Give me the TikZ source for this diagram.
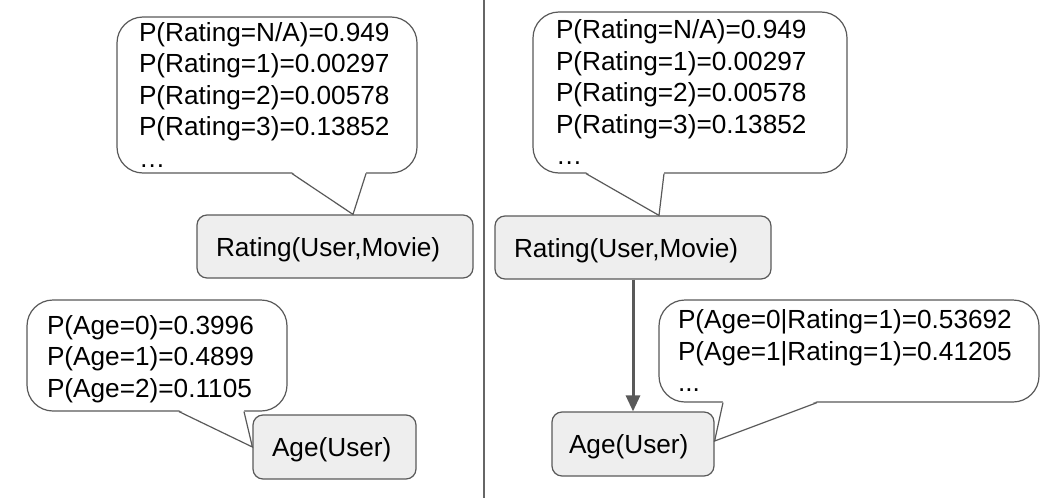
\documentclass[tikz,border=0pt]{standalone}
\usepackage{fontspec}
\setmainfont{Liberation Sans}
\usetikzlibrary{arrows.meta}
\definecolor{edgegray}{HTML}{595959}
\definecolor{boxfill}{HTML}{EEEEEE}
\definecolor{divgray}{HTML}{666666}
\tikzset{
  txt/.style={font=\fontsize{26.2}{31.5}\selectfont, align=left, text=black},
  callout/.style={txt, draw=edgegray, line width=1.2pt, fill=white, rounded corners=26pt, inner sep=0pt},
  varbox/.style={txt, draw=edgegray, line width=1.2pt, fill=boxfill, rounded corners=10pt, inner sep=0pt, minimum height=63pt, text height=19pt, text depth=0pt},
  tail/.style={draw=edgegray, line width=1.2pt},
  dep/.style={draw=edgegray, line width=3pt, -{Triangle[length=16pt,width=14pt]}}
}
\begin{document}
\begin{tikzpicture}[x=1pt,y=-1pt]
\useasboundingbox (0,0) rectangle (1060,498);
% divider
\draw[divgray, line width=1.2pt] (484,0) -- (484,498);

% ---------- left panel ----------
\node[callout, minimum width=300pt, minimum height=156pt, text width=256pt] (c1) at (267,95)
  {P(Rating=N/A)=0.949\\P(Rating=1)=0.00297\\P(Rating=2)=0.00578\\P(Rating=3)=0.13852\\…};
\node[varbox, minimum width=276pt, text width=238pt] (r1) at (335,246.5) {Rating(User,Movie)};
\node[callout, minimum width=260pt, minimum height=111pt, text width=220pt] (c2) at (157,355.5)
  {\rule{0pt}{26pt}P(Age=0)=0.3996\\P(Age=1)=0.4899\\P(Age=2)=0.1105};
\node[varbox, minimum width=163pt, minimum height=64pt, text width=125pt] (a1) at (334.5,447) {Age(User)};

% ---------- right panel ----------
\node[callout, minimum width=314pt, minimum height=161pt, text width=268pt] (c3) at (690,92.5)
  {P(Rating=N/A)=0.949\\P(Rating=1)=0.00297\\P(Rating=2)=0.00578\\P(Rating=3)=0.13852\\…};
\node[varbox, minimum width=276pt, text width=238pt] (r2) at (633,247.5) {Rating(User,Movie)};
\node[varbox, minimum width=162pt, minimum height=64pt, text width=128pt] (a2) at (633,444) {Age(User)};
\node[callout, minimum width=380pt, minimum height=102pt, text width=342pt] (c4) at (849,351)
  {P(Age=0|Rating=1)=0.53692\\P(Age=1|Rating=1)=0.41205\\...};

\draw[dep] (r2.south) -- (a2.north);

% ---------- callout tails ----------
\coordinate (c1l) at ([xshift=25pt]c1.south);
\coordinate (c1r) at ([xshift=99pt]c1.south);
\coordinate (t1) at ([xshift=18pt]r1.north);
\coordinate (c2l) at ([xshift=22pt]c2.south);
\coordinate (c2r) at ([xshift=87pt]c2.south);
\coordinate (t2) at (a1.west);
\coordinate (c3l) at ([xshift=-104pt]c3.south);
\coordinate (c3r) at ([xshift=-26pt]c3.south);
\coordinate (t3) at ([xshift=26pt]r2.north);
\coordinate (c4l) at ([xshift=-126pt]c4.south);
\coordinate (c4r) at ([xshift=-32pt]c4.south);
\coordinate (t4) at ([yshift=3pt]a2.east);

\foreach \l/\r/\t in {c1l/c1r/t1, c2l/c2r/t2, c3l/c3r/t3, c4l/c4r/t4}{
  \fill[white] ([yshift=1.5pt]\l) -- (\t) -- ([yshift=1.5pt]\r) -- cycle;
  \draw[tail] (\l) -- (\t) -- (\r);
}
\end{tikzpicture}
\end{document}
